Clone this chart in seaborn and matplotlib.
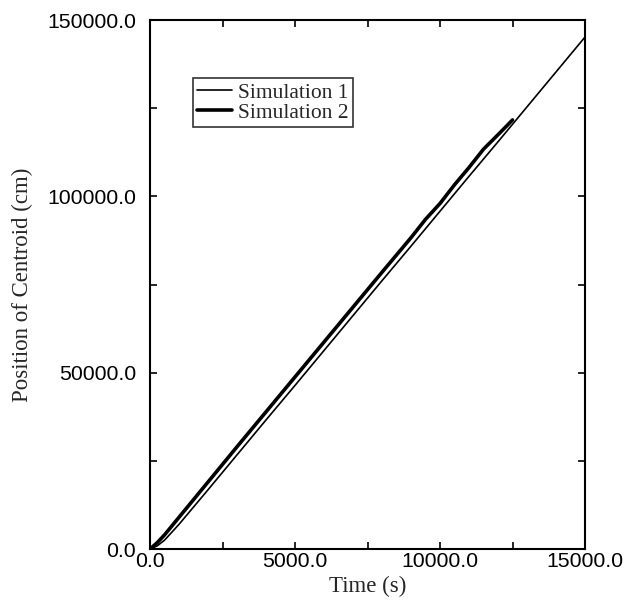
import matplotlib
matplotlib.use("Agg")
import matplotlib.pyplot as plt
import seaborn as sns
import pandas as pd
from matplotlib.ticker import MultipleLocator, FormatStrFormatter

# Data
sim1_time = [0, 250, 500, 1000, 1500, 2000, 3000, 4000, 5000, 6000, 7000, 8000,
             9000, 10000, 11000, 12000, 13000, 14000, 15000]
sim1_pos = [0, 900, 2500, 7000, 11900, 16800, 26700, 36600, 46400, 56300, 66200,
            76100, 85900, 95800, 105700, 115500, 125400, 135300, 145200]

sim2_time = [0, 250, 500, 1000, 1500, 2000, 3000, 4000, 5000, 6000, 7000, 8000,
             9000, 9500, 10000, 10500, 11000, 11500, 12000, 12300, 12500]
sim2_pos = [0, 1800, 4000, 9000, 14000, 19000, 29000, 38900, 48800, 58700, 68600,
            78500, 88300, 93500, 98000, 103300, 108200, 113400, 117500, 120000, 121700]

labels = ["Simulation 1", "Simulation 2"]
x_label = "Time (s)"
y_label = "Position of Centroid (cm)"

df1 = pd.DataFrame({"t": sim1_time, "y": sim1_pos})
df2 = pd.DataFrame({"t": sim2_time, "y": sim2_pos})

sns.set_style("ticks")
fig = plt.figure(figsize=(6.24, 6.01), dpi=100)
ax = fig.add_axes([0.2404, 0.0865, 0.6971, 0.88])

sns.lineplot(data=df1, x="t", y="y", ax=ax, color="black", linewidth=1.2,
             label=labels[0], sort=False)
sns.lineplot(data=df2, x="t", y="y", ax=ax, color="black", linewidth=2.6,
             label=labels[1], sort=False)

ax.set_xlim(0, 15000)
ax.set_ylim(0, 150000)
ax.xaxis.set_major_locator(MultipleLocator(5000))
ax.xaxis.set_minor_locator(MultipleLocator(2500))
ax.yaxis.set_major_locator(MultipleLocator(50000))
ax.yaxis.set_minor_locator(MultipleLocator(25000))
ax.xaxis.set_major_formatter(FormatStrFormatter("%.1f"))
ax.yaxis.set_major_formatter(FormatStrFormatter("%.1f"))

ax.tick_params(which="both", direction="in", top=True, right=True, width=1.2,
               color="black")
ax.tick_params(which="major", length=5)
ax.tick_params(which="minor", length=5)
ax.tick_params(axis="x", which="major", pad=2)
ax.tick_params(axis="y", which="major", pad=10)
for lab in ax.get_xticklabels() + ax.get_yticklabels():
    lab.set_family("Liberation Sans")
    lab.set_fontsize(15.3)
    lab.set_color("black")

for sp in ax.spines.values():
    sp.set_linewidth(1.5)
    sp.set_color("black")

ax.set_xlabel(x_label, family="Liberation Serif", fontsize=16.5, labelpad=4)
ax.set_ylabel(y_label, family="Liberation Serif", fontsize=16.5, labelpad=10)

leg = ax.legend(loc="upper left", bbox_to_anchor=(0.099, 0.89), borderaxespad=0,
                prop={"family": "Liberation Serif", "size": 15.5}, frameon=True,
                fancybox=False, handlelength=1.6, handletextpad=0.3,
                labelspacing=0.0, borderpad=0.2)
leg.get_frame().set_edgecolor("black")
leg.get_frame().set_linewidth(1.2)

fig.savefig("out.png", dpi=100)
